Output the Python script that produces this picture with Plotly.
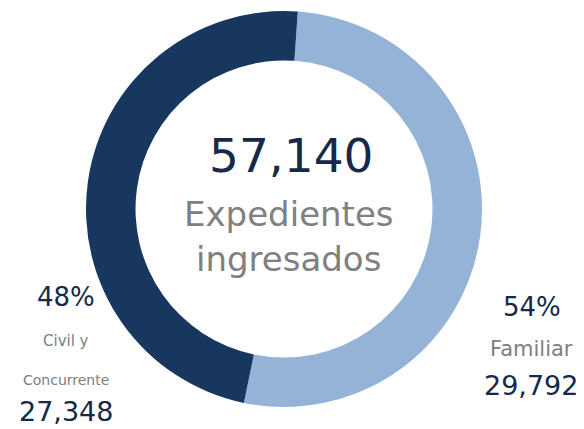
import plotly.graph_objects as go

# The page body has an 8px default margin; the figure is sized to fill the rest.
OFF = 8
W, H = 584 - OFF, 429 - OFF

categories = ["Familiar", "Civil y Concurrente"]
values = [29792, 27348]
pct_labels = ["54%", "48%"]
name_lines = [["Familiar"], ["Civil y", "Concurrente"]]
value_labels = ["29,792", "27,348"]
total_label = "57,140"
center_caption = ["Expedientes", "ingresados"]

colors = ["#95B3D7", "#17375E"]
dark_text = "#17294A"
grey_text = "#808080"
FONT = "DejaVu Sans"

# positions in screen pixels of the reference picture
cx, cy, R = 284, 209, 198

def px(x):
    return (x - OFF) / W

def py(y):
    return 1 - (y - OFF) / H

fig = go.Figure(go.Pie(
    labels=categories,
    values=values,
    hole=0.75,
    sort=False,
    direction="clockwise",
    rotation=4,
    marker=dict(colors=colors, line=dict(width=0)),
    textinfo="none",
    hoverinfo="skip",
    domain=dict(x=[px(cx - R), px(cx + R)], y=[py(cy + R), py(cy - R)]),
    showlegend=False,
))

def ann(text, x, y, size, color, weight=400):
    fig.add_annotation(
        text=text, x=px(x), y=py(y), xref="paper", yref="paper",
        xanchor="center", yanchor="middle", showarrow=False,
        font=dict(family=FONT, size=size, color=color, weight=weight),
    )

# centre
ann(total_label, 291, 155, 47, dark_text)
ann(center_caption[0], 289, 214, 34, grey_text)
ann(center_caption[1], 288, 259, 34, grey_text)

# right label (Familiar)
ann(pct_labels[0], 532, 307, 26, dark_text)
ann(name_lines[0][0], 531, 349, 21, grey_text)
ann(value_labels[0], 531, 385, 27, dark_text)

# left label (Civil y Concurrente)
ann(pct_labels[1], 66, 297, 26, dark_text)
ann(name_lines[1][0], 66, 341, 15, grey_text)
ann(name_lines[1][1], 66, 380, 14, grey_text)
ann(value_labels[1], 66, 411, 27, dark_text)

fig.update_layout(
    width=W, height=H,
    margin=dict(l=0, r=0, t=0, b=0),
    paper_bgcolor="white", plot_bgcolor="white",
)

fig.write_html("out.html")
